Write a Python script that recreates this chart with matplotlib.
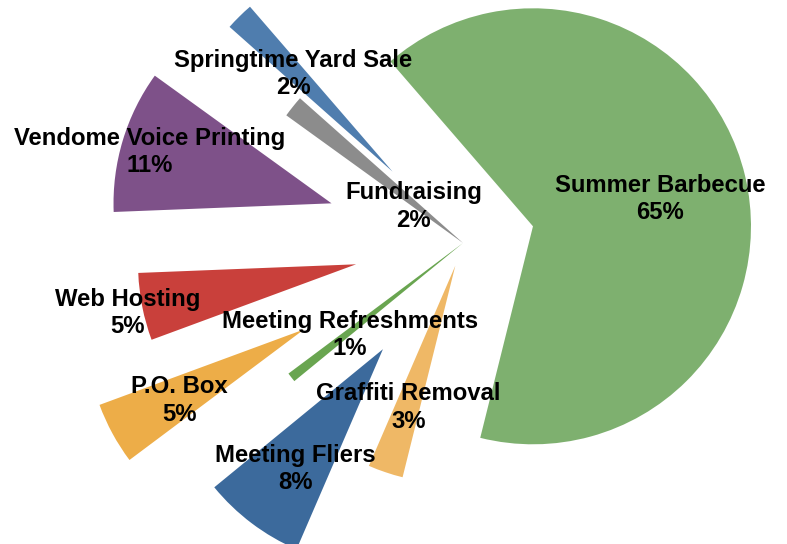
import matplotlib
matplotlib.use('Agg')
import matplotlib.pyplot as plt
import numpy as np

# slice data (percent of total), drawn counter-clockwise from the start angle
names = ['Summer Barbecue', 'Springtime Yard Sale', 'Fundraising',
         'Vendome Voice Printing', 'Web Hosting', 'P.O. Box',
         'Meeting Refreshments', 'Meeting Fliers', 'Graffiti Removal']
values = [65.3, 2.1, 1.6, 10.6, 5.0, 4.6, 0.7, 7.6, 2.6]

colors = ['#7EB06F', '#4F7DAE', '#8C8C8C', '#7E5189', '#C9403B',
          '#EDAD48', '#69A550', '#3C6A9C', '#EFB866']
explode = [0.33, 0.46, 0.0, 0.63, 0.50, 0.83, 0.0, 0.61, 0.11]
label_dist = [0.60, 0.65, 0.29, 0.87, 1.07, 0.65, 0.66, 0.67, 0.67]

W, H = 787, 544
CX, CY, R = 463, 243, 218  # pie centre / radius in pixels

fig = plt.figure(figsize=(W / 100, H / 100), dpi=100)
ax = fig.add_axes([0, 0, 1, 1])
ax.axis('off')

wedges, _ = ax.pie(values, explode=explode, colors=colors, startangle=256,
                   counterclock=True, radius=1.0,
                   wedgeprops=dict(linewidth=0))
ax.set_xlim(-CX / R, (W - CX) / R)
ax.set_ylim(-(H - CY) / R, CY / R)
ax.set_aspect('equal')

total = sum(values)
for w, name, v, d in zip(wedges, names, values, label_dist):
    mid = np.deg2rad((w.theta1 + w.theta2) / 2)
    x = w.center[0] + d * np.cos(mid)
    y = w.center[1] + d * np.sin(mid) - 0.015
    ax.text(x, y, '%s\n%d%%' % (name, round(v / total * 100)),
            ha='center', va='center', fontsize=17.2, fontweight='bold',
            family='Liberation Sans', linespacing=1.25, color='black')

fig.savefig('out.png', dpi=100)
